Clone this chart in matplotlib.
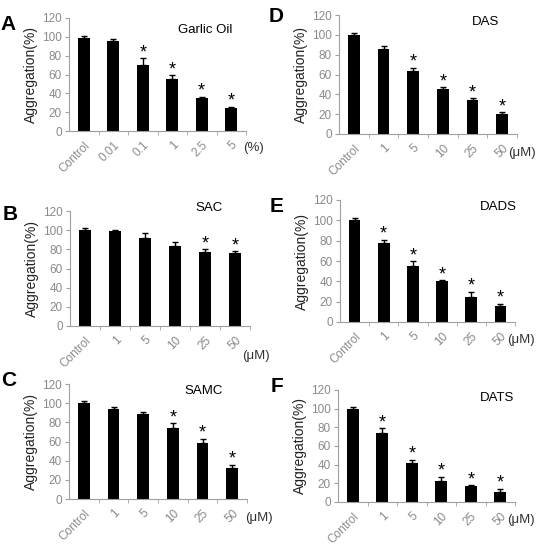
import matplotlib
matplotlib.use('Agg')
import matplotlib.pyplot as plt

plt.rcParams['font.family'] = ['Liberation Sans', 'DejaVu Sans']

# categories
cats_pct = ['Control', '0.01', '0.1', '1', '2.5', '5']
cats_um = ['Control', '1', '5', '10', '25', '50']

# A - Garlic Oil
garlic_oil = [99, 96, 70, 55, 35, 24]
garlic_oil_err = [2, 2, 7, 4, 1, 2]
garlic_oil_star = [0, 0, 1, 1, 1, 1]

# B - SAC
sac = [100, 99, 92, 84, 77, 76]
sac_err = [2, 1, 5, 4, 3, 2]
sac_star = [0, 0, 0, 0, 1, 1]

# C - SAMC
samc = [100, 94, 89, 74, 58, 32]
samc_err = [2, 2, 2, 5, 5, 4]
samc_star = [0, 0, 0, 1, 1, 1]

# D - DAS
das = [100, 86, 64, 45, 34, 20]
das_err = [2, 3, 3, 2, 2, 2]
das_star = [0, 0, 1, 1, 1, 1]

# E - DADS
dads = [100, 78, 55, 40, 25, 16]
dads_err = [2, 3, 5, 1, 5, 2]
dads_star = [0, 1, 1, 1, 1, 1]

# F - DATS
dats = [100, 74, 42, 23, 17, 11]
dats_err = [2, 5, 3, 4, 1, 3]
dats_star = [0, 1, 1, 1, 1, 1]

W, H = 539, 548
fig = plt.figure(figsize=(W / 100, H / 100), dpi=100)


def px_axes(l, t, r, b):
    return fig.add_axes([l / W, 1 - b / H, (r - l) / W, (b - t) / H])


def panel(box, cats, vals, errs, stars, title, title_xy, letter, letter_xy, unit, unit_xy):
    ax = px_axes(*box)
    x = list(range(len(cats)))
    ax.bar(x, vals, width=0.4, color='black', zorder=2)
    ax.errorbar(x, vals, yerr=[[0] * len(errs), errs], fmt='none', ecolor='black',
                elinewidth=1, capsize=2, capthick=1, zorder=3)
    for xi, v, e, s in zip(x, vals, errs, stars):
        if s:
            ax.text(xi, v + e - 3, '*', ha='center', va='bottom', fontsize=13, color='black')
    ax.set_xlim(-0.5, 5.5)
    ax.set_ylim(0, 120)
    ax.set_yticks(range(0, 121, 20))
    ax.set_xticks(x)
    ax.set_xticklabels(cats, rotation=45, ha='right', rotation_mode='anchor')
    ax.set_xticks([i + 0.5 for i in x], minor=True)
    ax.tick_params(axis='x', which='major', length=0, pad=6, labelsize=8.5, labelcolor='#8a8a8a')
    ax.tick_params(axis='x', which='minor', length=3, color='#a0a0a0', direction='out')
    ax.tick_params(axis='y', length=3, color='#a0a0a0', labelsize=8.5, labelcolor='#8a8a8a', pad=2)
    for sp in ['top', 'right']:
        ax.spines[sp].set_visible(False)
    for sp in ['left', 'bottom']:
        ax.spines[sp].set_color('#a0a0a0')
        ax.spines[sp].set_linewidth(0.8)
    ax.set_ylabel('Aggregation(%)', fontsize=10, color='#222222', labelpad=3)
    fig.text(title_xy[0] / W, 1 - title_xy[1] / H, title, ha='center', va='center',
             fontsize=9.5, color='black')
    fig.text(letter_xy[0] / W, 1 - letter_xy[1] / H, letter, ha='center', va='center',
             fontsize=15, fontweight='bold', color='black')
    fig.text(unit_xy[0] / W, 1 - unit_xy[1] / H, unit, ha='center', va='center',
             fontsize=9.5, color='#333333')
    return ax


panel((69, 18, 246, 131), cats_pct, garlic_oil, garlic_oil_err, garlic_oil_star,
      'Garlic Oil', (205, 30), 'A', (8, 25), '(%)', (253, 148))
panel((70, 211, 250, 326), cats_um, sac, sac_err, sac_star,
      'SAC', (209, 208), 'B', (10, 214), '(\u03bcM)', (256, 356))
panel((69, 384, 247, 499), cats_um, samc, samc_err, samc_star,
      'SAMC', (204, 391), 'C', (9, 381), '(\u03bcM)', (259, 518))
panel((339, 15, 517, 134), cats_um, das, das_err, das_star,
      'DAS', (486, 22), 'D', (276, 17), '(\u03bcM)', (522, 153))
panel((340, 200, 515, 322), cats_um, dads, dads_err, dads_star,
      'DADS', (498, 207), 'E', (277, 207), '(\u03bcM)', (521, 340))
panel((338, 390, 515, 502), cats_um, dats, dats_err, dats_star,
      'DATS', (497, 398), 'F', (277, 387), '(\u03bcM)', (521, 520))

fig.savefig('out.png', dpi=100)
